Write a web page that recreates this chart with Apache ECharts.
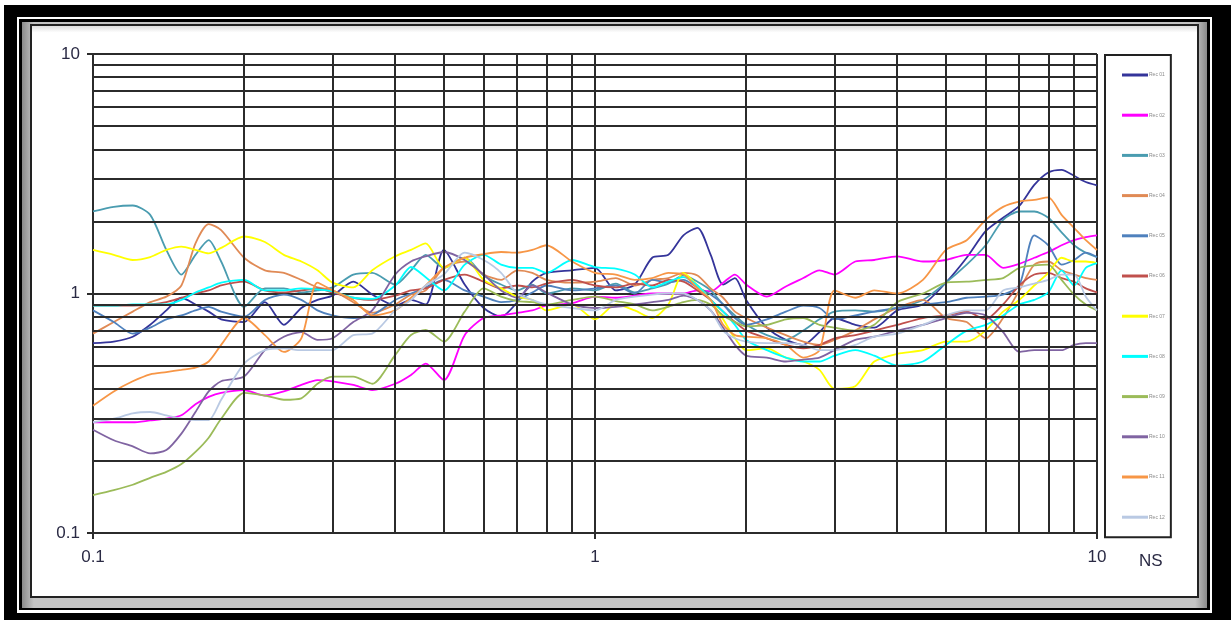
<!DOCTYPE html>
<html>
<head>
<meta charset="utf-8">
<script src="https://cdn.jsdelivr.net/npm/echarts@6/dist/echarts.min.js"></script>
<style>
  html, body { margin: 0; padding: 0; background: #fff; }
  #chart { width: 1231px; height: 620px; }
</style>
</head>
<body>
<div id="chart"></div>
<script>
// periods (s), shared by every record
const periods = [
  0.10, 0.11, 0.12, 0.13, 0.14, 0.15, 0.16, 0.17, 0.18, 0.20,
  0.22, 0.24, 0.26, 0.28, 0.30, 0.33, 0.36, 0.40, 0.43, 0.46,
  0.50, 0.55, 0.60, 0.65, 0.70, 0.75, 0.80, 0.90, 1.0, 1.1,
  1.2, 1.3, 1.4, 1.5, 1.6, 1.7, 1.8, 1.9, 2.0, 2.2,
  2.4, 2.6, 2.8, 3.0, 3.3, 3.6, 4.0, 4.5, 5.0, 5.5,
  6.0, 6.5, 7.0, 7.5, 8.0, 8.5, 9.0, 9.5, 10
];

const rec1 = [
  0.62, 0.63, 0.66, 0.74, 0.85, 0.96, 0.90, 0.84, 0.78, 0.76,
  0.92, 0.74, 0.87, 0.94, 0.98, 1.12, 0.99, 0.89, 0.94, 0.90,
  1.52, 1.09, 0.87, 0.80, 0.92, 1.12, 1.22, 1.25, 1.28, 1.03,
  1.09, 1.41, 1.45, 1.75, 1.88, 1.45, 1.09, 1.16, 0.94, 0.72,
  0.64, 0.61, 0.69, 0.79, 0.74, 0.72, 0.85, 0.90, 1.11, 1.41,
  1.82, 2.07, 2.32, 2.84, 3.2, 3.28, 3.10, 2.92, 2.83
];
const rec2 = [
  0.29, 0.29, 0.29, 0.295, 0.30, 0.31, 0.345, 0.37, 0.385, 0.395,
  0.375, 0.39, 0.415, 0.435, 0.43, 0.415, 0.395, 0.42, 0.457, 0.51,
  0.435, 0.67, 0.79, 0.81, 0.83, 0.85, 0.89, 0.91, 0.97, 0.96,
  0.98, 1.0, 1.0, 1.0, 1.03, 1.02, 1.11, 1.2, 1.09, 0.97,
  1.07, 1.16, 1.25, 1.2, 1.36, 1.38, 1.43, 1.36, 1.38, 1.45,
  1.45, 1.28, 1.33, 1.41, 1.49, 1.59, 1.67, 1.72, 1.75
];
const rec3 = [
  2.2, 2.3, 2.33, 2.13, 1.52, 1.2, 1.45, 1.67, 1.36, 0.88,
  1.05, 1.05, 1.01, 1.03, 1.06, 1.2, 1.22, 1.09, 1.25, 1.45,
  1.28, 1.41, 1.19, 1.09, 1.03, 1.09, 1.0, 1.05, 1.03, 1.1,
  1.01, 1.05, 1.1, 1.19, 1.12, 1.03, 0.9, 0.81, 0.74, 0.67,
  0.64, 0.70, 0.78, 0.84, 0.85, 0.84, 0.87, 0.94, 1.11, 1.32,
  1.59, 2.03, 2.2, 2.2, 2.07, 1.8, 1.59, 1.48, 1.42
];
const rec4 = [
  0.68, 0.76, 0.84, 0.92, 0.97, 1.08, 1.62, 1.95, 1.84, 1.41,
  1.25, 1.22, 1.14, 1.06, 1.03, 0.92, 0.83, 0.9, 0.99, 1.03,
  1.28, 1.36, 1.2, 1.14, 1.25, 1.22, 1.14, 1.11, 1.12, 1.16,
  1.08, 1.14, 1.16, 1.22, 1.19, 1.05, 0.96, 0.84, 0.79, 0.72,
  0.67, 0.63, 0.61, 0.64, 0.70, 0.78, 0.87, 0.94, 0.79, 0.76,
  0.65, 0.79, 1.03, 1.32, 1.36, 1.25, 1.2, 1.16, 1.14
];
const rec5 = [
  0.85, 0.76, 0.68, 0.72, 0.78, 0.81, 0.85, 0.88, 0.84, 0.8,
  0.94, 0.99, 0.94, 0.85, 0.81, 0.79, 0.81, 0.94, 1.0, 1.06,
  1.14, 1.03, 0.97, 0.92, 0.94, 1.01, 1.08, 1.03, 1.05, 1.08,
  1.0, 1.14, 1.11, 1.14, 1.06, 0.99, 0.9, 0.79, 0.74, 0.78,
  0.84, 0.89, 0.87, 0.78, 0.81, 0.84, 0.87, 0.9, 0.92, 0.96,
  0.97, 0.99, 1.08, 1.75, 1.59, 1.32, 1.38, 1.48, 1.42
];
const rec6 = [
  0.89, 0.89, 0.89, 0.9, 0.92, 0.96, 1.0, 1.03, 1.08, 1.12,
  1.03, 1.01, 1.03, 1.05, 1.01, 0.96, 0.94, 0.98, 1.03, 1.05,
  1.14, 1.2, 1.12, 1.05, 1.08, 1.06, 1.1, 1.14, 1.08, 1.06,
  1.1, 1.08, 1.14, 1.12, 1.03, 0.94, 0.84, 0.76, 0.7, 0.65,
  0.61, 0.59, 0.61, 0.65, 0.67, 0.7, 0.74, 0.79, 0.81, 0.84,
  0.78, 0.9, 1.08, 1.2, 1.22, 1.16, 1.12, 1.05, 1.01
];
const rec7 = [
  1.52, 1.45, 1.38, 1.42, 1.52, 1.57, 1.52, 1.47, 1.55, 1.73,
  1.64, 1.45, 1.36, 1.25, 1.11, 1.06, 1.25, 1.43, 1.52, 1.62,
  1.28, 1.41, 1.14, 1.05, 0.97, 0.94, 0.85, 0.9, 0.78, 0.9,
  0.85, 0.79, 0.9, 1.22, 1.08, 0.94, 0.78, 0.65, 0.58, 0.59,
  0.54, 0.52, 0.48, 0.4, 0.41, 0.52, 0.56, 0.58, 0.63, 0.63,
  0.7, 0.84, 0.94, 1.08, 1.22, 1.41, 1.36, 1.36, 1.34
];
const rec8 = [
  0.89, 0.89, 0.9, 0.9, 0.9, 0.94, 1.01, 1.06, 1.11, 1.14,
  1.03, 1.03, 1.05, 1.04, 1.02, 0.96, 0.95, 1.08, 1.29, 1.17,
  1.03, 1.32, 1.45, 1.32, 1.28, 1.28, 1.22, 1.38, 1.29, 1.27,
  1.2, 1.06, 1.12, 1.17, 1.08, 0.94, 0.84, 0.74, 0.64, 0.58,
  0.54, 0.52, 0.52, 0.55, 0.58, 0.55, 0.5, 0.52, 0.61, 0.7,
  0.74, 0.81, 0.9, 0.94, 1.01, 1.25, 1.08, 1.28, 1.34
];
const rec9 = [
  0.144, 0.151, 0.159, 0.17, 0.18, 0.194, 0.218, 0.25, 0.3, 0.385,
  0.375, 0.36, 0.365, 0.42, 0.45, 0.45, 0.42, 0.554, 0.671, 0.704,
  0.63, 0.84, 1.05, 0.97, 0.93, 0.92, 0.9, 0.94, 0.97, 0.93,
  0.9, 0.85, 0.88, 0.92, 0.94, 0.9, 0.81, 0.76, 0.73, 0.74,
  0.78, 0.79, 0.74, 0.72, 0.7, 0.74, 0.92, 1.0, 1.11, 1.12,
  1.14, 1.16, 1.28, 1.31, 1.32, 1.14, 0.99, 0.9, 0.85
];
const rec10 = [
  0.27, 0.244, 0.23, 0.215, 0.222, 0.26, 0.32, 0.39, 0.43, 0.45,
  0.58, 0.66, 0.69, 0.64, 0.65, 0.76, 0.85, 1.2, 1.36, 1.43,
  1.49, 1.38, 1.2, 1.03, 0.96, 1.08, 1.01, 0.9, 0.87, 0.88,
  0.9, 0.92, 0.94, 0.98, 0.94, 0.85, 0.72, 0.61, 0.55, 0.54,
  0.52, 0.53, 0.54, 0.58, 0.64, 0.66, 0.7, 0.74, 0.79, 0.83,
  0.81, 0.69, 0.57, 0.58, 0.58, 0.58, 0.61, 0.62, 0.62
];
const rec11 = [
  0.34, 0.39, 0.43, 0.46, 0.47, 0.48, 0.49, 0.52, 0.61, 0.79,
  0.67, 0.57, 0.65, 1.11, 1.03, 0.94, 0.81, 0.85, 0.96, 1.08,
  1.28, 1.41, 1.46, 1.49, 1.48, 1.52, 1.59, 1.36, 1.22, 1.2,
  1.14, 1.16, 1.22, 1.2, 1.05, 0.94, 0.74, 0.67, 0.66, 0.65,
  0.61, 0.54, 0.58, 1.03, 0.96, 1.03, 1.0, 1.14, 1.52, 1.67,
  2.03, 2.3, 2.42, 2.46, 2.52, 2.13, 1.88, 1.67, 1.52
];
const rec12 = [
  0.29, 0.3, 0.316, 0.32, 0.31, 0.3, 0.296, 0.296, 0.36, 0.51,
  0.58, 0.59, 0.58, 0.58, 0.58, 0.67, 0.68, 0.85, 0.94, 1.08,
  1.2, 1.48, 1.38, 1.22, 1.0, 0.94, 0.9, 0.87, 0.85, 0.94,
  0.97, 0.99, 1.0, 1.0, 0.94, 0.85, 0.7, 0.65, 0.63, 0.62,
  0.62, 0.61, 0.58, 0.58, 0.61, 0.66, 0.68, 0.74, 0.81, 0.85,
  0.85, 1.03, 1.06, 1.1, 1.14, 1.2, 1.2, 0.97, 0.85
];

const names = [
  "Rec 01", "Rec 02", "Rec 03", "Rec 04", "Rec 05", "Rec 06",
  "Rec 07", "Rec 08", "Rec 09", "Rec 10", "Rec 11", "Rec 12"
];
const colors = [
  "#34349a", "#ff00ff", "#4a9cb0", "#e08a55", "#4f81bd", "#c0504d",
  "#ffff00", "#00ffff", "#9bbb59", "#8064a2", "#f79646", "#b9c9e3"
];
const records = [rec1, rec2, rec3, rec4, rec5, rec6, rec7, rec8, rec9, rec10, rec11, rec12];

// minor grid positions of the log-log paper
const minorX = [0.2, 0.3, 0.4, 0.5, 0.6, 0.7, 0.8, 0.9, 2, 3, 4, 5, 6, 7, 8, 9];
const minorY = [0.2, 0.3, 0.4, 0.5, 0.6, 0.7, 0.8, 0.9, 2, 3, 4, 5, 6, 7, 8, 9];

const gridColor = "#2b2b2b";
const font = "Liberation Sans";

const series = [
  {
    name: "grid",
    type: "line",
    data: [[1, 1]],
    showSymbol: false,
    symbol: "none",
    lineStyle: { opacity: 0 },
    silent: true,
    z: 1,
    markLine: {
      silent: true,
      symbol: "none",
      label: { show: false },
      lineStyle: { color: gridColor, width: 2, type: "solid" },
      data: [
        ...minorX.map((v) => ({ xAxis: v })),
        ...minorY.map((v) => ({ yAxis: v })),
      ],
    },
  },
  ...records.map((r, i) => ({
    name: names[i],
    type: "line",
    data: periods.map((p, j) => [p, r[j]]),
    showSymbol: false,
    smooth: 0.25,
    color: colors[i],
    lineStyle: { width: 1.8, color: colors[i] },
    z: 3,
  })),
];

const chart = echarts.init(document.getElementById("chart"));
chart.setOption({
  animation: false,
  backgroundColor: "#fff",
  graphic: [
    { type: "rect", z: -10, shape: { x: 4, y: 5, width: 1227, height: 615 }, style: { fill: "#000" } },
    { type: "rect", z: -9, shape: { x: 17, y: 17, width: 1195, height: 596 }, style: { fill: "#fff" } },
    { type: "rect", z: -8, shape: { x: 19, y: 19, width: 1191, height: 591 }, style: { fill: "#000" } },
    {
      type: "rect", z: -7, shape: { x: 22, y: 22, width: 1185, height: 586 },
      style: {
        fill: new echarts.graphic.LinearGradient(0, 0, 1, 0, [
          { offset: 0, color: "#8a8a8a" },
          { offset: 0.01, color: "#c4c4c4" },
          { offset: 0.99, color: "#c4c4c4" },
          { offset: 1, color: "#8a8a8a" },
        ]),
      },
    },
    {
      type: "rect", z: -6, shape: { x: 31, y: 25, width: 1167, height: 572 },
      style: {
        fill: new echarts.graphic.LinearGradient(0, 0, 0, 1, [
          { offset: 0, color: "#d5d5d5" },
          { offset: 0.015, color: "#ffffff" },
          { offset: 1, color: "#ffffff" },
        ]),
        stroke: "#222", lineWidth: 2,
      },
    },
    {
      type: "text", z: 5, left: 1139, top: 553,
      style: { text: "NS", font: `17px "${font}"`, fill: "#2a2a44" },
    },
  ],
  grid: { left: 93, top: 54, width: 1004, height: 479, containLabel: false },
  legend: {
    data: names,
    orient: "vertical",
    left: 1105,
    top: 55,
    width: 87,
    padding: [17, 6, 17, 17],
    itemGap: 34.2,
    itemWidth: 26,
    itemHeight: 3,
    icon: "rect",
    backgroundColor: "#fff",
    borderColor: "#222",
    borderWidth: 2,
    borderRadius: 0,
    selectedMode: false,
    textStyle: { fontSize: 5, lineHeight: 6, color: "#8a8a8a", fontFamily: font, padding: [0, 0, 0, -4] },
  },
  xAxis: {
    type: "log",
    logBase: 10,
    min: 0.1,
    max: 10,
    axisLine: { show: true, lineStyle: { color: gridColor, width: 2 } },
    axisTick: { show: true, inside: false, length: 6, lineStyle: { color: gridColor, width: 2 } },
    axisLabel: { margin: 16, fontSize: 17, fontFamily: font, color: "#2a2a44", formatter: (v) => String(v) },
    splitLine: { show: true, lineStyle: { color: gridColor, width: 2 } },
  },
  yAxis: {
    type: "log",
    logBase: 10,
    min: 0.1,
    max: 10,
    axisLine: { show: true, lineStyle: { color: gridColor, width: 2 } },
    axisTick: { show: true, inside: false, length: 6, lineStyle: { color: gridColor, width: 2 } },
    axisLabel: { margin: 13, fontSize: 17, fontFamily: font, color: "#2a2a44", formatter: (v) => String(v) },
    splitLine: { show: true, lineStyle: { color: gridColor, width: 2 } },
  },
  series,
});
</script>
</body>
</html>
